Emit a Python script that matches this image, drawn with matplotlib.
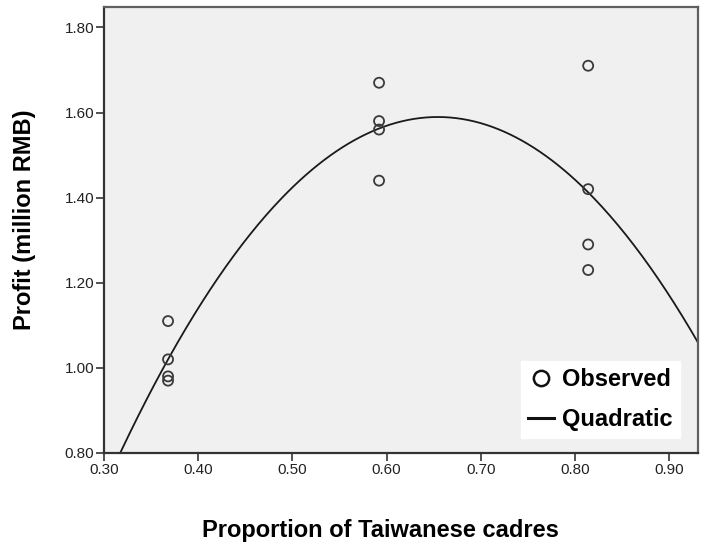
import numpy as np
import matplotlib
matplotlib.use("Agg")
from matplotlib import pyplot as plt
from matplotlib.lines import Line2D

# observed points
prop_x = [0.368, 0.368, 0.368, 0.368,
          0.592, 0.592, 0.592, 0.592,
          0.814, 0.814, 0.814, 0.814]
profit_y = [1.11, 1.02, 0.98, 0.97,
            1.67, 1.58, 1.56, 1.44,
            1.71, 1.42, 1.29, 1.23]

x_ticks = [0.30, 0.40, 0.50, 0.60, 0.70, 0.80, 0.90]
y_ticks = [0.80, 1.00, 1.20, 1.40, 1.60, 1.80]

plt.rcParams['font.family'] = ['Liberation Sans', 'DejaVu Sans']

W, H = 704, 548
fig = plt.figure(figsize=(W / 100, H / 100), dpi=100)
ax = fig.add_axes([104 / W, 1 - 453 / H, 594 / W, 446 / H])
ax.set_facecolor('#f0f0f0')

# quadratic fit through the observed points
coef = np.polyfit(prop_x, profit_y, 2)
xs = np.linspace(0.30, 0.935, 300)
ax.plot(xs, np.polyval(coef, xs), color='#1a1a1a', lw=1.3, zorder=2)

ax.scatter(prop_x, profit_y, s=52, facecolors='none', edgecolors='#3a3a3a',
           linewidths=1.3, zorder=3)

ax.set_xlim(0.30, 0.9306)
ax.set_ylim(0.80, 1.848)
ax.set_xticks(x_ticks)
ax.set_yticks(y_ticks)
ax.set_xticklabels(['%.2f' % v for v in x_ticks], fontsize=11, color='#222222')
ax.set_yticklabels(['%.2f' % v for v in y_ticks], fontsize=11, color='#222222')
ax.tick_params(direction='out', length=6, width=1.2, color='#333333', pad=1)

for name, side in ax.spines.items():
    side.set_linewidth(1.6)
    side.set_color('#333333' if name in ('left', 'bottom') else '#606060')

fig.text(380 / W, 1 - 531 / H, 'Proportion of Taiwanese cadres', fontsize=17,
         fontweight='bold', ha='center', va='center')
fig.text(25 / W, 1 - 220 / H, 'Profit (million RMB)', fontsize=17,
         fontweight='bold', ha='center', va='center', rotation=90)

handles = [Line2D([], [], ls='none', marker='o', markersize=11, mfc='none',
                  mec='#111111', mew=1.8, label='Observed'),
           Line2D([], [], color='#111111', lw=2.2, label='Quadratic')]
leg = fig.legend(handles=handles, loc='lower right',
                 bbox_to_anchor=(680 / W, 1 - 438 / H),
                 prop={'size': 17, 'weight': 'bold'}, frameon=True, fancybox=False,
                 handlelength=1.1, handletextpad=0.35, labelspacing=0.7,
                 borderpad=0.3, borderaxespad=0.0)
leg.get_frame().set_facecolor('white')
leg.get_frame().set_edgecolor('white')
leg.get_frame().set_alpha(1.0)

fig.savefig('out.png', dpi=100)
